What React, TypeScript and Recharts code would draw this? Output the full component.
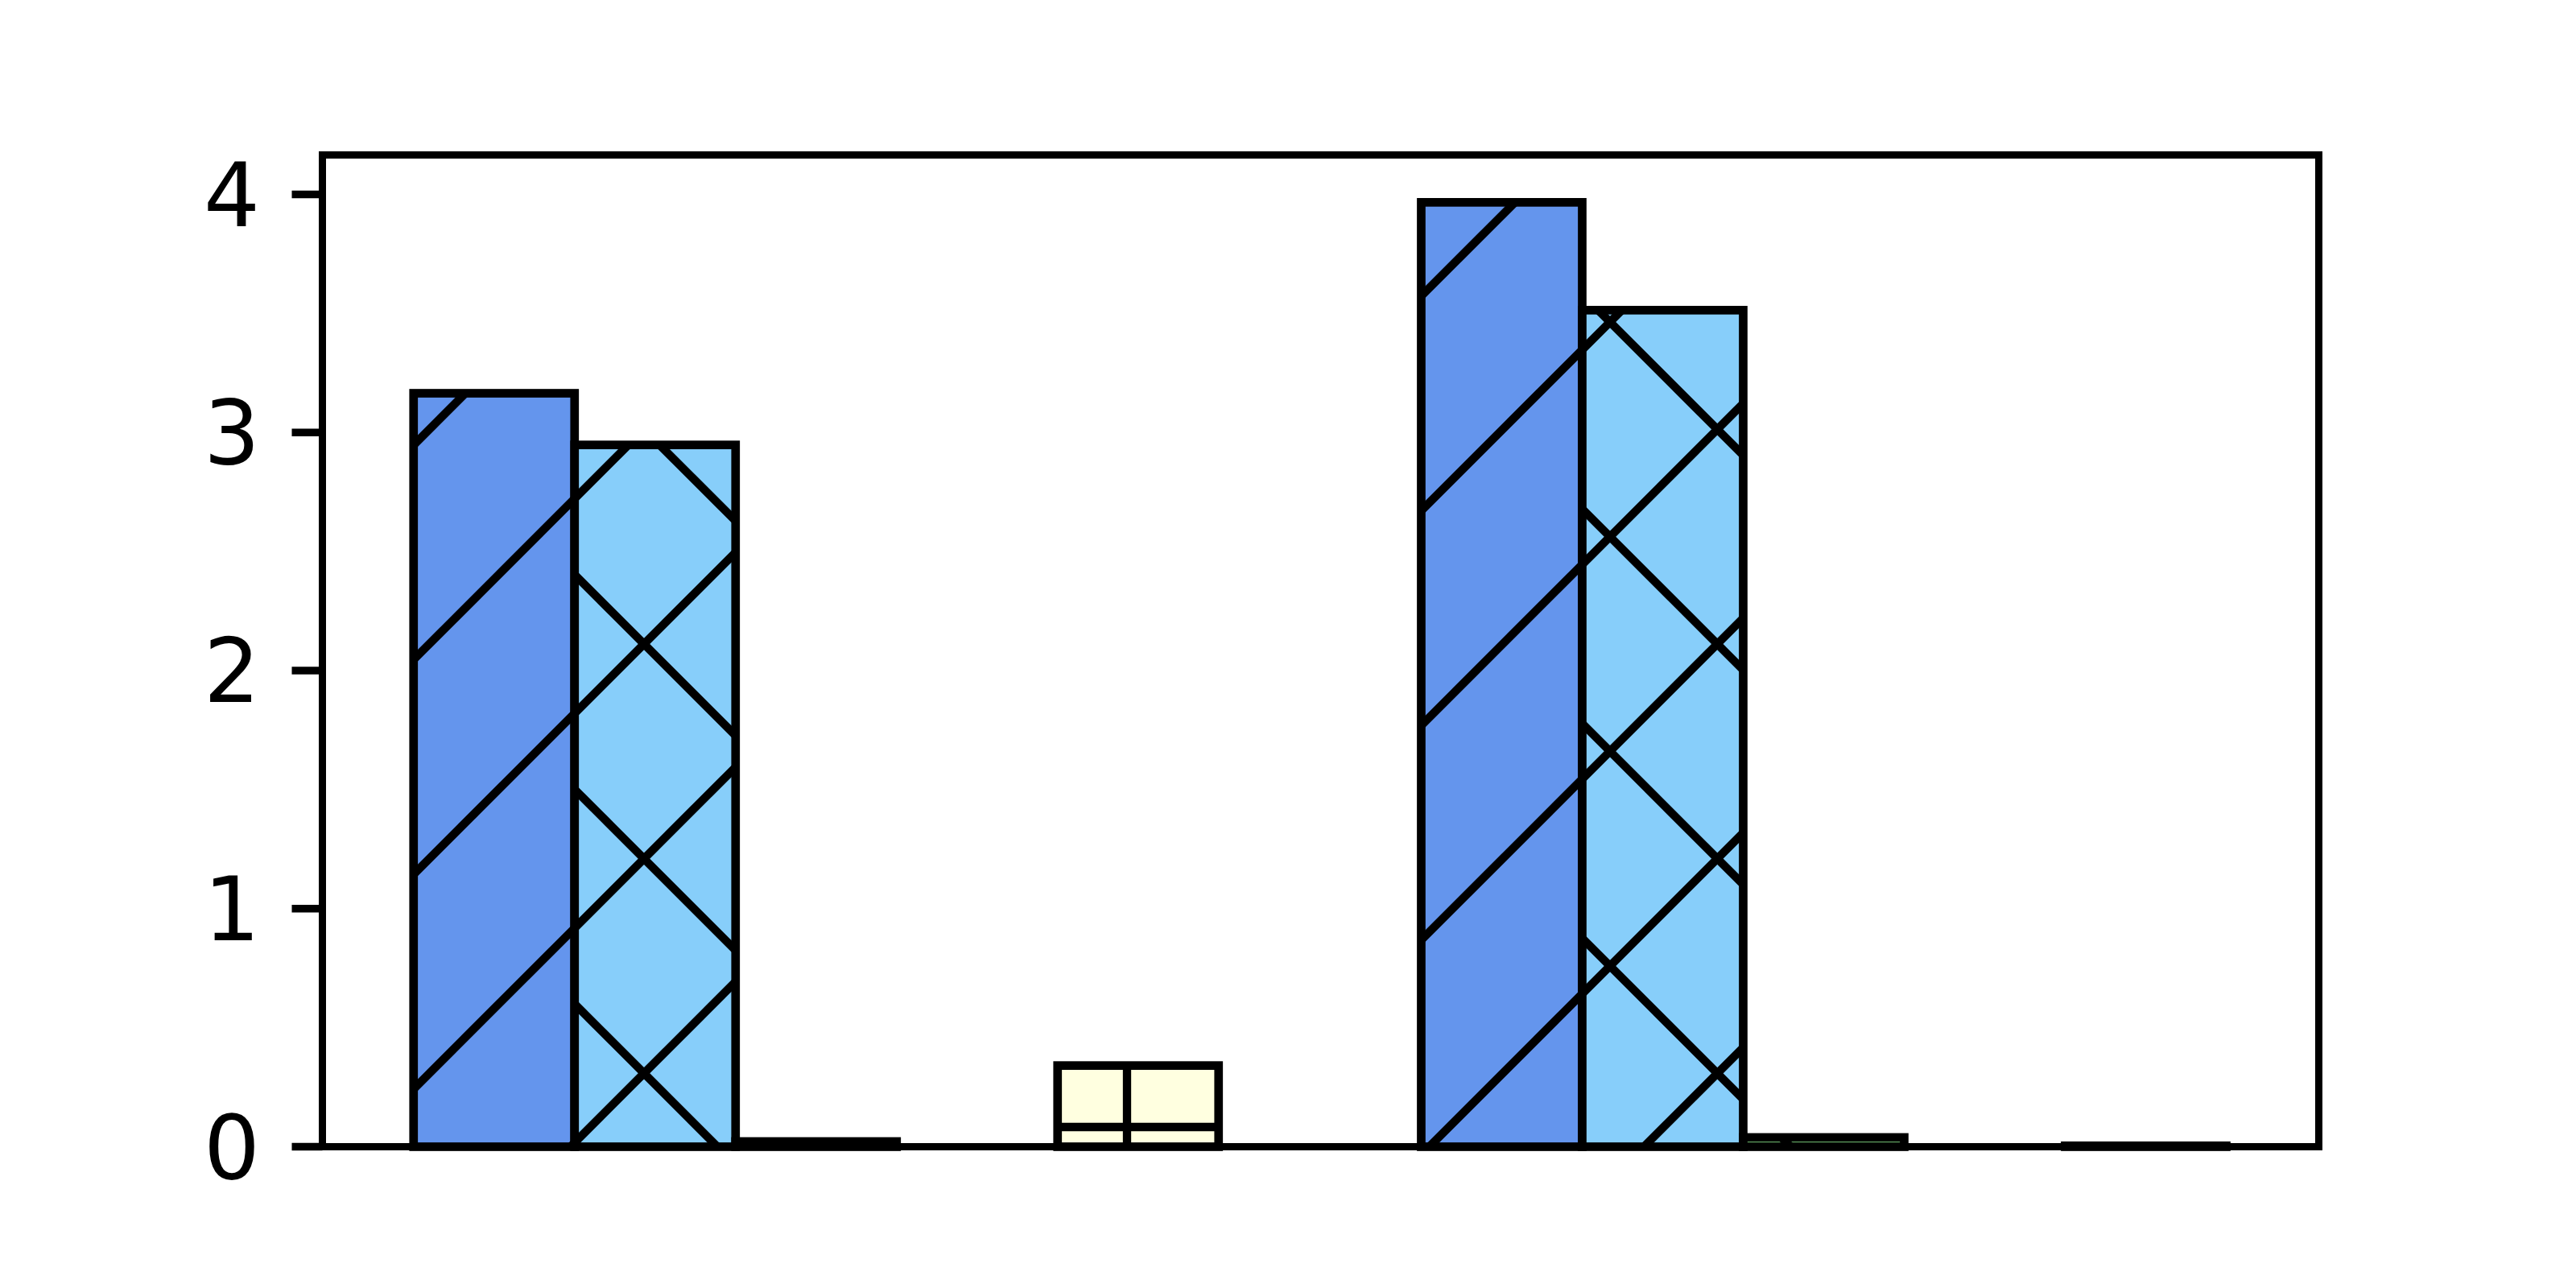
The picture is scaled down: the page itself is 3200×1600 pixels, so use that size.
import { BarChart, Bar, XAxis, YAxis } from "recharts";

const categories = ["Group 1", "Group 2"];
const blueValues = [3.165, 3.967];
const skyValues = [2.948, 3.514];
const greenValues = [0.022, 0.039];
const greyValues = [0, 0];
const yellowValues = [0.341, 0.004];
const yTicks = [0, 1, 2, 3, 4];

const data = categories.map((category, i) => ({
  category,
  blue: blueValues[i],
  sky: skyValues[i],
  green: greenValues[i],
  grey: greyValues[i],
  yellow: yellowValues[i],
}));

// hatch period and line widths (figure pixels)
const HATCH = 1600 / 6;
const PLUS_PHASE = 66.67;
const HATCH_W = 10.3;
const EDGE_W = 10.7;

type Seg = [number, number, number, number];

function hatchSegs(kinds: string, x0: number, y0: number, x1: number, y1: number): Seg[] {
  const segs: Seg[] = [];
  const e = 20;
  if (kinds.includes("/") || kinds.includes("x")) {
    const k0 = Math.floor((x0 + y0) / HATCH) - 1;
    const k1 = Math.ceil((x1 + y1) / HATCH) + 1;
    for (let k = k0; k <= k1; k++) {
      const c = k * HATCH;
      segs.push([c - (y1 + e), y1 + e, c - (y0 - e), y0 - e]);
    }
  }
  if (kinds.includes("\\") || kinds.includes("x")) {
    const k0 = Math.floor((x0 - y1) / HATCH) - 1;
    const k1 = Math.ceil((x1 - y0) / HATCH) + 1;
    for (let k = k0; k <= k1; k++) {
      const c = k * HATCH;
      segs.push([c + y0 - e, y0 - e, c + y1 + e, y1 + e]);
    }
  }
  if (kinds.includes("+")) {
    for (let k = Math.floor(x0 / HATCH) - 1; k <= Math.ceil(x1 / HATCH) + 1; k++) {
      const px = PLUS_PHASE + k * HATCH;
      segs.push([px, y0 - e, px, y1 + e]);
    }
    for (let k = Math.floor(y0 / HATCH) - 1; k <= Math.ceil(y1 / HATCH) + 1; k++) {
      const py = PLUS_PHASE + k * HATCH;
      segs.push([x0 - e, py, x1 + e, py]);
    }
  }
  return segs;
}

function hatchShape(name: string, color: string, hatch: string) {
  return (props: any) => {
    const { x, y, width, height, index } = props;
    if (!height || height <= 0 || !width) return <g />;
    const id = `clip-${name}-${index}`;
    const segs = hatchSegs(hatch, x, y, x + width, y + height);
    return (
      <g>
        <clipPath id={id}>
          <rect x={x} y={y} width={width} height={height} />
        </clipPath>
        <rect x={x} y={y} width={width} height={height} fill={color} />
        <g clipPath={`url(#${id})`}>
          {segs.map((s, i) => (
            <line key={i} x1={s[0]} y1={s[1]} x2={s[2]} y2={s[3]} stroke="#000" strokeWidth={HATCH_W} />
          ))}
        </g>
        <rect x={x} y={y} width={width} height={height} fill="none" stroke="#000" strokeWidth={EDGE_W} />
      </g>
    );
  };
}

const series = [
  { key: "blue", color: "#6495ED", hatch: "/" },
  { key: "sky", color: "#87CEFA", hatch: "x" },
  { key: "green", color: "#90EE90", hatch: "\\" },
  { key: "grey", color: "#D3D3D3", hatch: "-" },
  { key: "yellow", color: "#FFFFE0", hatch: "+" },
];

const spine = { stroke: "#000", strokeWidth: 9, strokeLinecap: "square" as const };

export default function App() {
  return (
    <div style={{ position: "absolute", left: 0, top: 0, width: 3200, height: 1600, background: "#fff" }}>
      <BarChart
        width={3200}
        height={1600}
        data={data}
        margin={{ top: 191.5, right: 318.5, bottom: 174.5, left: 399.5 }}
        barCategoryGap="10%"
        barGap={0}
      >
        {series.map((s) => (
          <Bar
            key={s.key}
            dataKey={s.key}
            fill={s.color}
            isAnimationActive={false}
            shape={hatchShape(s.key, s.color, s.hatch)}
          />
        ))}
        <XAxis
          dataKey="category"
          height={1}
          tick={false}
          tickLine={false}
          axisLine={spine}
          padding={{ left: -11.9, right: -11.5 }}
        />
        <XAxis xAxisId="top" orientation="top" dataKey="category" height={1} tick={false} tickLine={false} axisLine={spine} />
        <YAxis
          width={1}
          domain={[0, 4.166]}
          ticks={yTicks}
          interval={0}
          tickSize={38}
          tickMargin={39.5}
          tick={{ fontSize: 110, fill: "#000", fontFamily: "DejaVu Sans" }}
          tickLine={{ stroke: "#000", strokeWidth: 9.5 }}
          axisLine={spine}
        />
        <YAxis yAxisId="right" orientation="right" width={1} tick={false} tickLine={false} axisLine={spine} />
      </BarChart>
    </div>
  );
}
